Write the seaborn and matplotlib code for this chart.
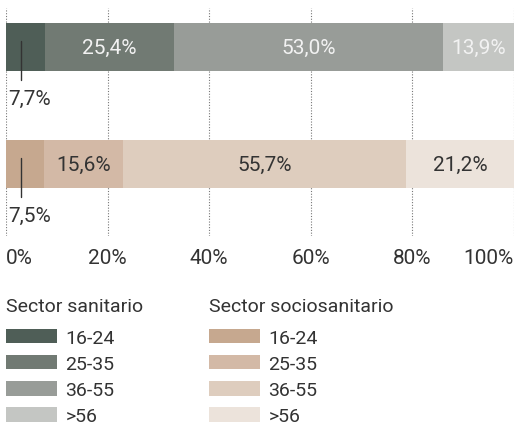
"""Age distribution of workers: sanitary vs socio-sanitary sector."""

import matplotlib

matplotlib.use("Agg")
import matplotlib.pyplot as plt
import numpy as np
import pandas as pd
import seaborn as sns
from matplotlib.patches import Patch


GROUPS = ["Sector sanitario", "Sector sociosanitario"]
AGES = ["16-24", "25-35", "36-55", ">56"]
SANITARIO = [7.7, 25.4, 53.0, 13.9]
SOCIOSANITARIO = [7.5, 15.6, 55.7, 21.2]
TICKS = [0, 20, 40, 60, 80, 100]

GREENS = ["#4f5e57", "#717a73", "#989c98", "#c4c6c3"]
BEIGES = ["#c6a88f", "#d3b9a6", "#decdbe", "#ece3db"]
TEXT = "#333333"


def fmt(v: float) -> str:
    return f"{v:.1f}%".replace(".", ",")


def main() -> None:
    sns.set_theme(style="white")
    plt.rcParams["font.family"] = ["Roboto", "DejaVu Sans"]
    plt.rcParams["text.color"] = TEXT

    fig = plt.figure(figsize=(5.15, 4.27), dpi=100)
    ax = fig.add_axes([6 / 515, 1 - 237 / 427, 508 / 515, 228 / 427])

    values = np.array([SANITARIO, SOCIOSANITARIO])
    cum = values.cumsum(axis=1)
    starts = cum - values

    # stacked bars: draw the longest cumulative bar first, shorter ones on top
    for i in reversed(range(len(AGES))):
        df = pd.DataFrame({"grupo": GROUPS, "valor": cum[:, i]})
        sns.barplot(
            data=df, x="valor", y="grupo", hue="grupo", order=GROUPS,
            palette={GROUPS[0]: GREENS[i], GROUPS[1]: BEIGES[i]},
            width=0.41, dodge=False, legend=False, ax=ax, saturation=1,
            linewidth=0,
        )

    label_colors = ["#f2f2f2", TEXT]
    for r in range(len(GROUPS)):
        for i in range(1, len(AGES)):
            ax.text(starts[r, i] + values[r, i] / 2, r, fmt(values[r, i]),
                    ha="center", va="center", fontsize=15,
                    color=label_colors[r])
        # small first segment: leader line + label below the bar
        lx = values[r, 0] * 0.39
        ax.plot([lx, lx], [r - 0.05, r + 0.28], color=TEXT, linewidth=1,
                zorder=5)
        ax.text(0.4, r + 0.44, fmt(values[r, 0]), ha="left", va="center",
                fontsize=15, color=TEXT)

    ax.set_xlim(0, 100)
    ax.set_ylim(1.615, -0.333)
    ax.set_xticks(TICKS)
    ax.set_xticklabels([f"{t}%" for t in TICKS], fontsize=15, color=TEXT)
    ax.get_xticklabels()[0].set_ha("left")
    ax.get_xticklabels()[-1].set_ha("right")
    ax.tick_params(axis="x", length=0, pad=9)
    ax.set_yticks([])
    ax.set_xlabel("")
    ax.set_ylabel("")
    ax.grid(axis="x", linestyle=(0, (1, 1.5)), color="#777777", linewidth=0.8)
    ax.grid(axis="y", visible=False)
    ax.set_axisbelow(True)
    for s in ax.spines.values():
        s.set_visible(False)

    for g, colors, x0 in [(GROUPS[0], GREENS, 6), (GROUPS[1], BEIGES, 209)]:
        handles = [Patch(facecolor=c, edgecolor="none") for c in colors]
        leg = fig.legend(
            handles, AGES, title=g, loc="upper left",
            bbox_to_anchor=(x0 / 515, 1 - 298 / 427), frameon=False,
            fontsize=14, title_fontsize=14, alignment="left",
            handlelength=2.6, handleheight=0.75, handletextpad=0.45,
            labelspacing=0.42, borderpad=0, borderaxespad=0,
        )
        leg._legend_box.sep = 10
        for t in leg.get_texts():
            t.set_color(TEXT)
        leg.get_title().set_color(TEXT)

    fig.savefig("out.png", dpi=100)
    plt.close(fig)


if __name__ == "__main__":
    main()
